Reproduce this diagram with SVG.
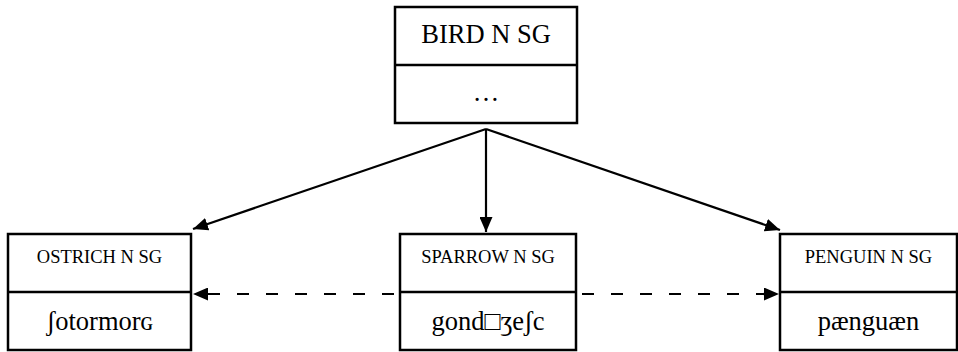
<svg xmlns="http://www.w3.org/2000/svg" width="958" height="352" viewBox="0 0 958 352">
  <style>
    .box { fill: #fff; stroke: #000; stroke-width: 2.5; }
    .div { stroke: #000; stroke-width: 2.5; }
    .big { font-family: "Liberation Serif", "Times New Roman", serif; font-size: 26.5px; fill: #000; text-anchor: middle; }
    .small { font-family: "Liberation Serif", "Times New Roman", serif; font-size: 18.5px; fill: #000; text-anchor: middle; }
    .edge { stroke: #000; stroke-width: 2.2; fill: none; }
    .dash { stroke-dasharray: 12 17; }
  </style>
  <defs>
    <marker id="arrow" viewBox="0 0 15 13" refX="15" refY="6.5" markerWidth="15" markerHeight="13" markerUnits="userSpaceOnUse" orient="auto">
      <path d="M0,0 L15,6.5 L0,13 Z" fill="#000"/>
    </marker>
  </defs>

  <g id="connectors">
    <line class="edge" x1="486" y1="129" x2="193" y2="229" marker-end="url(#arrow)"/>
    <line class="edge" x1="486" y1="129" x2="486" y2="232" marker-end="url(#arrow)"/>
    <line class="edge" x1="486" y1="129" x2="780" y2="230" marker-end="url(#arrow)"/>
    <line class="edge dash" x1="394" y1="294" x2="193" y2="294" marker-end="url(#arrow)"/>
    <line class="edge dash" x1="582" y1="294" x2="779" y2="294" marker-end="url(#arrow)"/>
  </g>

  <g id="bird">
    <rect class="box" x="395" y="7" width="182" height="116"/>
    <line class="div" x1="395" y1="65" x2="577" y2="65"/>
    <text class="big" x="486" y="43">BIRD N SG</text>
    <text class="big" x="486" y="101">…</text>
  </g>

  <g id="ostrich">
    <rect class="box" x="8" y="234" width="183" height="116"/>
    <line class="div" x1="8" y1="292" x2="191" y2="292"/>
    <text class="small" x="99.5" y="263">OSTRICH N SG</text>
    <text class="big" x="99.5" y="330">ʃotormorɢ</text>
  </g>

  <g id="sparrow">
    <rect class="box" x="400" y="234" width="176" height="116"/>
    <line class="div" x1="400" y1="292" x2="576" y2="292"/>
    <text class="small" x="488" y="263">SPARROW N SG</text>
    <text class="big" x="488" y="330">gond□ʒeʃc</text>
  </g>

  <g id="penguin">
    <rect class="box" x="780" y="234" width="177" height="116"/>
    <line class="div" x1="780" y1="292" x2="957" y2="292"/>
    <text class="small" x="868.5" y="263">PENGUIN N SG</text>
    <text class="big" x="868.5" y="330">pænguæn</text>
  </g>
</svg>
